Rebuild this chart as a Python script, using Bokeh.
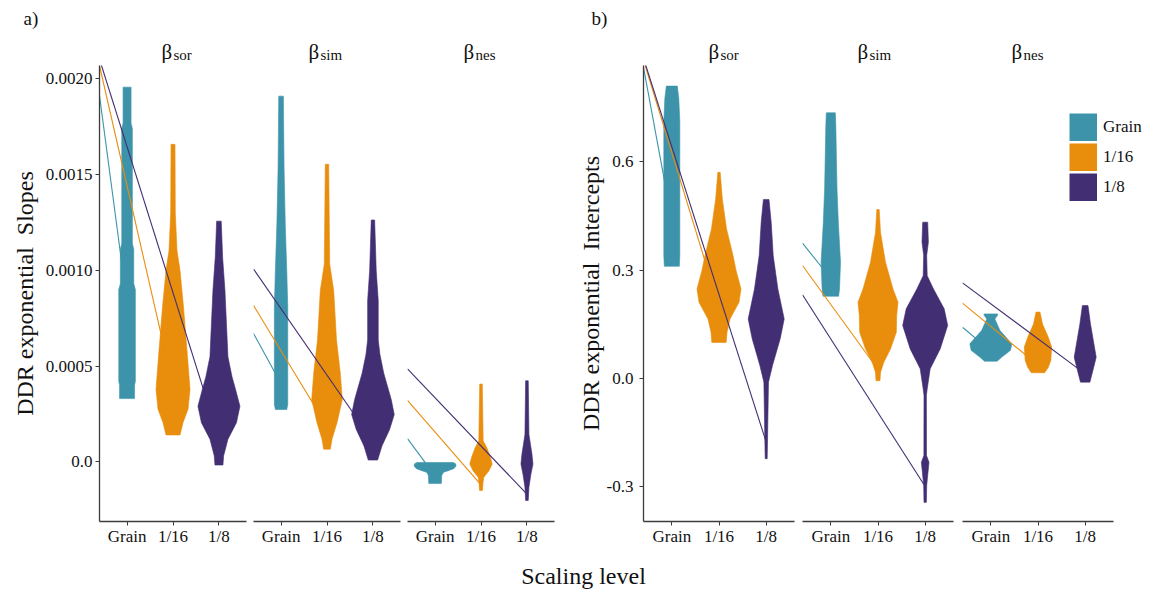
import numpy as np
from bokeh.plotting import figure
from bokeh.models import (Range1d, FixedTicker, CustomJSTickFormatter, Label,
                          Legend, LegendItem)
from bokeh.layouts import row, column
from bokeh.embed import file_html
from bokeh.resources import INLINE

FONT = "Liberation Serif"

# ---------------- data ----------------
levels = ["Grain", "1/16", "1/8"]
level_colors = ["#3D94AA", "#E98D0D", "#422E72"]
metric_names = ["sor", "sim", "nes"]

# Violin outlines: (value, half-density) pairs, bottom to top
# Panel a: DDR exponential slopes
slope_sor_grain = [(0.000330, 7.5), (0.000400, 7.5), (0.000420, 8.3), (0.000900, 8.3), (0.000930, 6.7),
                   (0.001110, 6.7), (0.001140, 5.3), (0.001740, 5.3), (0.001770, 4.0), (0.001957, 4.0)]
slope_sor_16 = [(0.000140, 7.0), (0.000204, 10.0), (0.000275, 15.0), (0.000378, 17.0), (0.000549, 14.5),
                (0.000808, 10.5), (0.001000, 7.0), (0.001104, 4.0), (0.001300, 2.3), (0.001658, 2.0)]
slope_sor_8 = [(-0.000017, 4.0), (0.000031, 4.7), (0.000118, 9.0), (0.000204, 17.5), (0.000290, 21.0),
               (0.000370, 17.0), (0.000446, 13.0), (0.000549, 9.0), (0.000896, 6.0), (0.001067, 3.7),
               (0.001257, 2.3)]
slope_sim_grain = [(0.000273, 5.7), (0.000300, 6.7), (0.000808, 6.7), (0.000981, 5.8), (0.001240, 4.2),
                   (0.001534, 3.0), (0.001910, 2.3)]
slope_sim_16 = [(0.000066, 3.3), (0.000118, 5.0), (0.000204, 10.0), (0.000325, 15.3), (0.000463, 13.3),
                (0.000636, 9.5), (0.000895, 6.7), (0.001033, 2.7), (0.001554, 1.7)]
slope_sim_8 = [(0.000009, 4.7), (0.000083, 9.0), (0.000169, 16.7), (0.000247, 21.3), (0.000325, 18.3),
               (0.000463, 10.8), (0.000560, 7.0), (0.000636, 5.3), (0.000843, 5.3), (0.000998, 3.3),
               (0.001263, 1.7)]
slope_nes_grain = [(-0.000113, 6.3), (-0.000070, 6.7), (-0.000055, 8.5), (-0.000045, 14.0),
                   (-0.000035, 19.0), (-0.000021, 21.0), (-0.000010, 20.5), (-0.000004, 18.0)]
slope_nes_16 = [(-0.000150, 1.5), (-0.000110, 2.0), (-0.000081, 2.8), (-0.000047, 8.0), (-0.000012, 11.2),
                (0.000022, 9.5), (0.000074, 5.8), (0.000109, 2.2), (0.000406, 1.3)]
slope_nes_8 = [(-0.000202, 1.3), (-0.000133, 2.0), (-0.000064, 4.0), (-0.000012, 6.0), (0.000040, 5.0),
               (0.000109, 3.0), (0.000143, 2.0), (0.000423, 1.3)]

# Panel b: DDR exponential intercepts
icpt_sor_grain = [(0.311, 7.5), (0.341, 8.0), (0.710, 8.0), (0.775, 7.0), (0.810, 5.5)]
icpt_sor_16 = [(0.100, 7.2), (0.128, 8.0), (0.165, 11.0), (0.211, 20.0), (0.248, 22.0), (0.300, 17.0),
               (0.341, 14.0), (0.415, 7.5), (0.498, 3.3), (0.571, 1.2)]
icpt_sor_8 = [(-0.222, 1.0), (-0.176, 1.3), (-0.010, 2.3), (0.036, 6.3), (0.110, 14.0), (0.165, 18.0),
              (0.248, 11.7), (0.341, 7.0), (0.433, 5.0), (0.496, 2.8)]
icpt_sim_grain = [(0.228, 7.8), (0.248, 8.7), (0.322, 9.7), (0.433, 7.5), (0.525, 6.2), (0.700, 5.0),
                  (0.736, 4.5)]
icpt_sim_16 = [(-0.006, 2.0), (0.017, 2.5), (0.045, 5.8), (0.082, 12.5), (0.128, 18.3), (0.175, 18.7),
               (0.211, 20.0), (0.248, 15.0), (0.322, 7.5), (0.405, 2.5), (0.468, 1.2)]
icpt_sim_8 = [(-0.343, 1.2), (-0.296, 1.5), (-0.260, 2.8), (-0.232, 3.8), (-0.213, 1.3), (-0.047, 1.2),
              (-0.029, 2.0), (0.027, 5.0), (0.082, 15.0), (0.147, 22.5), (0.193, 19.0), (0.248, 8.3),
              (0.285, 2.0), (0.341, 1.5), (0.378, 3.2), (0.433, 2.5)]
icpt_nes_grain = [(0.048, 6.3), (0.059, 10.8), (0.078, 19.7), (0.096, 21.0), (0.133, 9.2), (0.165, 4.0),
                  (0.175, 6.7), (0.179, 6.7)]
icpt_nes_16 = [(0.016, 6.7), (0.031, 10.3), (0.050, 12.8), (0.087, 13.7), (0.114, 10.3), (0.151, 4.5),
               (0.184, 2.0)]
icpt_nes_8 = [(-0.010, 4.7), (0.022, 7.7), (0.059, 11.0), (0.151, 5.3), (0.202, 2.8)]

# Trend lines: value at the facet's left edge -> value at the level's position
slope_line_start = {"sor": [0.001913, 0.002069, 0.002103],
                    "sim": [0.000670, 0.000817, 0.001007],
                    "nes": [0.000121, 0.000321, 0.000485]}
slope_line_end = {"sor": [0.000829, 0.000394, 0.000121],
                  "sim": [0.000408, 0.000184, 0.000106],
                  "nes": [-0.000074, -0.000121, -0.000169]}
icpt_line_start = {"sor": [0.862, 0.882, 0.887],
                   "sim": [0.375, 0.313, 0.232],
                   "nes": [0.142, 0.209, 0.265]}
icpt_line_end = {"sor": [0.438, 0.199, -0.176],
                 "sim": [0.277, 0.025, -0.299],
                 "nes": [0.076, 0.037, 0.013]}

slope_violins = {"sor": [slope_sor_grain, slope_sor_16, slope_sor_8],
                 "sim": [slope_sim_grain, slope_sim_16, slope_sim_8],
                 "nes": [slope_nes_grain, slope_nes_16, slope_nes_8]}
icpt_violins = {"sor": [icpt_sor_grain, icpt_sor_16, icpt_sor_8],
                "sim": [icpt_sim_grain, icpt_sim_16, icpt_sim_8],
                "nes": [icpt_nes_grain, icpt_nes_16, icpt_nes_8]}

slope_ticks = [0.0, 0.0005, 0.0010, 0.0015, 0.0020]
icpt_ticks = [-0.3, 0.0, 0.3, 0.6]

# ---------------- layout ----------------
X_LO, X_HI = 0.4, 3.6
AXIS_COLOR = "#3c3c3c"
TEXT_COLOR = "#111111"
TOTAL_W = 1150
HEAD_H = 63
ROW_H = 485
FOOT_H = 44


def make_facet(metric, violins, line_start, line_end, y_rng, width, bl, br, bt, bb,
               facet_px, y_axis=None):
    frame_w = width - bl - br
    px_per_unit = facet_px / (X_HI - X_LO)
    x_end = X_LO + frame_w / px_per_unit
    p = figure(width=width, height=ROW_H, x_range=Range1d(X_LO, x_end), y_range=y_rng,
               output_backend="svg", toolbar_location=None,
               y_axis_location="left" if y_axis else None,
               min_border_left=bl, min_border_right=br, min_border_top=bt, min_border_bottom=bb,
               outline_line_color=None)
    p.grid.visible = False
    for i, prof in enumerate(violins[metric]):
        vals = np.array([v for v, d in prof])
        half = np.array([d for v, d in prof]) / px_per_unit
        xc = i + 1
        xs = np.concatenate([xc + half, (xc - half)[::-1]])
        ys = np.concatenate([vals, vals[::-1]])
        p.patch(xs, ys, fill_color=level_colors[i], line_color=level_colors[i], line_width=0.6)
    for i in range(3):
        p.line([X_LO, i + 1], [line_start[metric][i], line_end[metric][i]],
               line_color=level_colors[i], line_width=1.1)

    xa = p.xaxis[0]
    xa.bounds = (X_LO, X_HI)
    xa.ticker = FixedTicker(ticks=[1, 2, 3])
    xa.major_label_overrides = {1: levels[0], 2: levels[1], 3: levels[2]}
    xa.axis_line_color = AXIS_COLOR
    xa.axis_line_width = 1.3
    xa.major_tick_line_color = AXIS_COLOR
    xa.major_tick_in = 0
    xa.major_tick_out = 4
    xa.minor_tick_line_color = None
    xa.major_label_text_font = FONT
    xa.major_label_text_font_size = "17px"
    xa.major_label_text_color = TEXT_COLOR
    xa.major_label_standoff = 1

    if y_axis:
        ya = p.yaxis[0]
        ya.ticker = FixedTicker(ticks=y_axis["ticks"])
        ya.formatter = CustomJSTickFormatter(code=y_axis["fmt"])
        ya.axis_line_color = AXIS_COLOR
        ya.axis_line_width = 1.3
        ya.major_tick_line_color = AXIS_COLOR
        ya.major_tick_in = 0
        ya.major_tick_out = 4
        ya.minor_tick_line_color = None
        ya.major_label_text_font = FONT
        ya.major_label_text_font_size = "17px"
        ya.major_label_text_color = TEXT_COLOR
        ya.major_label_standoff = y_axis["standoff"]
        ya.axis_label = y_axis["label"]
        ya.axis_label_text_font = FONT
        ya.axis_label_text_font_size = "24px"
        ya.axis_label_text_font_style = "normal"
        ya.axis_label_text_color = TEXT_COLOR
        ya.axis_label_standoff = y_axis["label_standoff"]
    return p


# facet geometry: (width, border_left, border_right, facet_px)
facet_geom = [(250, 99, 4, 147), (154, 3, 4, 147), (152, 3, 2, 147),
              (242, 87, 4, 151), (159, 4, 4, 151), (193, 5, 0, 151)]
frame_left = []
acc = 0
for w, bl, br, fpx in facet_geom:
    frame_left.append(acc + bl)
    acc += w

# panel a (frame spans page y 63..521)
ya_rng = Range1d(-0.000312, 0.002070)
a_axis = dict(ticks=slope_ticks, fmt="return tick == 0 ? '0.0' : tick.toFixed(4);",
              standoff=3, label="DDR exponential \u00a0Slopes", label_standoff=5)
# panel b (frame spans page y 65..521)
yb_rng = Range1d(-0.396, 0.867)
b_axis = dict(ticks=icpt_ticks, fmt="return tick.toFixed(1);",
              standoff=6, label="DDR exponential \u00a0Intercepts", label_standoff=0)

facets = []
for k in range(6):
    w, bl, br, fpx = facet_geom[k]
    metric = metric_names[k % 3]
    if k < 3:
        p = make_facet(metric, slope_violins, slope_line_start, slope_line_end, ya_rng,
                       w, bl, br, 0, 27, fpx, y_axis=a_axis if k == 0 else None)
    else:
        p = make_facet(metric, icpt_violins, icpt_line_start, icpt_line_end, yb_rng,
                       w, bl, br, 2, 27, fpx, y_axis=b_axis if k == 3 else None)
    facets.append(p)

# legend: filled swatches for each scaling level (single-point renderers, drawn only in the legend)
swatches = [facets[5].line(x=[i + 1], y=[0.0], line_color=level_colors[i], line_width=28,
                           line_cap="butt") for i in range(3)]
legend = Legend(items=[LegendItem(label=levels[i], renderers=[swatches[i]]) for i in range(3)],
                location=(107, 320), orientation="vertical", glyph_width=28, glyph_height=28,
                spacing=2, padding=0, margin=0, border_line_color=None, background_fill_alpha=0,
                label_text_font=FONT, label_text_font_size="17px", label_text_color=TEXT_COLOR,
                label_standoff=6)
facets[5].add_layout(legend)

# header strip: panel tags and facet strip labels
header = figure(width=TOTAL_W, height=HEAD_H, x_range=Range1d(0, TOTAL_W), y_range=Range1d(0, HEAD_H),
                output_backend="svg", toolbar_location=None, x_axis_location=None,
                y_axis_location=None, min_border=0, outline_line_color=None)
header.grid.visible = False
strip_dx = [62, 55, 56, 65, 55, 49]
for k in range(6):
    x0 = frame_left[k] + strip_dx[k]
    header.add_layout(Label(x=x0, y=11.5, text="β", text_font=FONT, text_font_size="21px",
                            text_color=TEXT_COLOR, text_baseline="alphabetic", text_align="left"))
    header.add_layout(Label(x=x0 + 12, y=8.5, text=metric_names[k % 3], text_font=FONT,
                            text_font_size="15px", text_color=TEXT_COLOR,
                            text_baseline="alphabetic", text_align="left"))
header.add_layout(Label(x=frame_left[0] - 76, y=HEAD_H - 18, text="a)", text_font=FONT,
                        text_font_size="19px", text_color=TEXT_COLOR, text_baseline="alphabetic"))
header.add_layout(Label(x=frame_left[3] - 52, y=HEAD_H - 18, text="b)", text_font=FONT,
                        text_font_size="19px", text_color=TEXT_COLOR, text_baseline="alphabetic"))

# footer strip with the shared x title
footer = figure(width=TOTAL_W, height=FOOT_H, x_range=Range1d(0, TOTAL_W), y_range=Range1d(0, FOOT_H),
                output_backend="svg", toolbar_location=None, x_axis_location=None,
                y_axis_location=None, min_border=0, outline_line_color=None)
footer.grid.visible = False
footer.add_layout(Label(x=583, y=17, text="Scaling level", text_align="center", text_baseline="alphabetic",
                        text_font=FONT, text_font_size="24px", text_color=TEXT_COLOR))

layout = column(header, row(*facets, spacing=0), footer, spacing=0)
open("out.html", "w").write(file_html(layout, INLINE))
